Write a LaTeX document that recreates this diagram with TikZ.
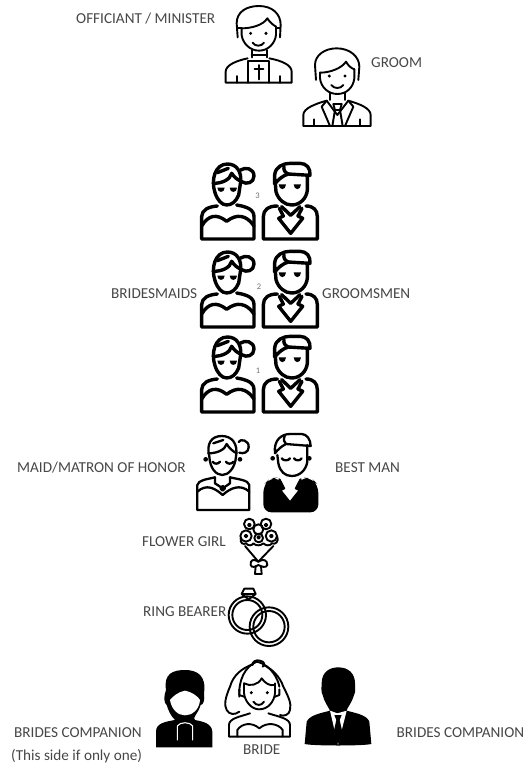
\documentclass[tikz,border=0pt]{standalone}
\usepackage{fontspec}
\setmainfont{Carlito}
\tikzset{
  x=1pt,y=-1pt,
  lbl/.style={font=\fontsize{15.2}{17}\selectfont,text=black!72,inner sep=0pt},
  tinylbl/.style={font=\fontsize{8.5}{9}\selectfont,text=black!55,inner sep=0pt},
  icon/.style={line width=1.9pt,line cap=round,line join=round,draw=black},
  heavy icon/.style={line width=3.4pt,line cap=round,line join=round,draw=black},
  pics/couple/.style={code={
    \begin{scope}[scale=1/3,heavy icon]
    % bridesmaid
    \draw (45,128) .. controls (32,90) and (45,42) .. (82,42) .. controls (110,42) and (125,65) .. (122,95) -- (116,135) .. controls (108,155) and (95,165) .. (80,165) .. controls (65,165) and (52,150) .. (45,128);
    \draw (122,60) .. controls (135,50) and (162,55) .. (162,78) .. controls (162,98) and (140,105) .. (125,95);
    \draw (40,100) .. controls (65,100) and (90,90) .. (95,70) .. controls (105,85) and (115,90) .. (125,95);
    \draw (52,68) -- (85,55);
    \fill (52,113) -- (74,113) .. controls (74,130) and (52,130) .. (52,113);
    \fill (89,113) -- (111,113) .. controls (111,130) and (89,130) .. (89,113);
    \draw (52,168) .. controls (25,170) and (5,180) .. (5,200) -- (5,267) -- (162,267) -- (162,200) .. controls (162,178) and (140,170) .. (110,165);
    \draw (5,228) .. controls (25,195) and (50,190) .. (80,214) .. controls (110,190) and (140,195) .. (162,228);
    % groomsman
    \draw (226,100) -- (228,125) .. controls (235,150) and (255,165) .. (275,165) .. controls (300,165) and (320,145) .. (322,120) -- (322,78);
    \draw (224,102) -- (224,75) .. controls (226,50) and (250,40) .. (270,40) -- (300,40) .. controls (320,40) and (332,55) .. (330,76) -- (265,72) .. controls (250,76) and (235,88) .. (224,102);
    \draw (252,50) .. controls (250,60) and (255,68) .. (265,72);
    \fill (236,103) -- (258,103) .. controls (258,122) and (236,122) .. (236,103);
    \fill (281,103) -- (303,103) .. controls (303,122) and (281,122) .. (281,103);
    \draw (232,168) .. controls (205,168) and (190,180) .. (190,200) -- (190,267) -- (352,267) -- (352,200) .. controls (352,180) and (340,168) .. (318,168);
    \draw (238,175) -- (250,198) -- (236,205) -- (272,250) -- (308,205) -- (294,198) -- (306,175);
    \draw (245,170) -- (272,196) -- (300,170);
    \end{scope}
  }}
}
\begin{document}
\begin{tikzpicture}
\useasboundingbox[fill=white] (0,0) rectangle (524,766);
% labels
\node[lbl,anchor=west] (off) at (76,19) {OFFICIANT / MINISTER};
\node[lbl,anchor=west] (gr) at (371,63) {GROOM};
\node[lbl,anchor=west] (bm) at (111,294) {BRIDESMAIDS};
\node[lbl,anchor=west] (gm) at (322,294) {GROOMSMEN};
\node[lbl,anchor=west] (moh) at (17,468) {MAID/MATRON OF HONOR};
\node[lbl,anchor=west] (bman) at (335,468) {BEST MAN};
\node[lbl,anchor=west] (fg) at (142,542) {FLOWER GIRL};
\node[lbl,anchor=west] (rb) at (143,612) {RING BEARER};
\node[lbl,anchor=west] (bc1) at (14,733) {BRIDES COMPANION};
\node[lbl,anchor=west] (bc3) at (11,756) {(This side if only one)};
\node[lbl,anchor=west] (br) at (243,750) {BRIDE};
\node[lbl,anchor=west] (bc2) at (396.5,733) {BRIDES COMPANION};
\node[tinylbl] (n3) at (257.5,196) {3};
\node[tinylbl] (n2) at (259,287) {2};
\node[tinylbl] (n1) at (258,371) {1};
% couples
\pic at (200,150) {couple};
\pic at (200,238) {couple};
\pic at (200,323) {couple};
% officiant
\begin{scope}[shift={(60,0)},scale=1/3,icon]
\draw (533,112) -- (530,70) .. controls (530,35) and (560,18) .. (597,18) .. controls (635,18) and (662,40) .. (662,75) -- (660,112);
\draw (545,85) -- (545,105) .. controls (548,130) and (570,152) .. (597,152) .. controls (625,152) and (645,130) .. (648,105) -- (648,80);
\draw (545,85) .. controls (575,85) and (610,75) .. (622,55) .. controls (630,68) and (640,75) .. (648,80);
\draw (533,85) -- (545,85) (648,85) -- (660,85);
\fill (572,100) circle (5) (618,100) circle (5);
\draw (578,128) .. controls (585,140) and (605,140) .. (612,128);
\draw (575,150) -- (575,172) (620,150) -- (620,172) (575,165) -- (620,165);
\draw (563,175) .. controls (530,182) and (497,195) .. (497,215) -- (497,248) -- (695,248) -- (695,215) .. controls (695,195) and (665,182) .. (628,175);
\draw (563,248) -- (563,182) -- (628,182) -- (628,248);
\draw (597,195) -- (597,238) (584,208) -- (610,208);
\draw (530,248) -- (530,228) (660,248) -- (660,228);
\end{scope}
% groom
\begin{scope}[shift={(60,0)},scale=1/3,icon]
\draw (768,240) -- (765,195) .. controls (765,165) and (795,145) .. (830,145) .. controls (870,145) and (898,170) .. (898,200) -- (895,240);
\draw (780,218) -- (780,235) .. controls (783,262) and (805,282) .. (832,282) .. controls (860,282) and (880,262) .. (883,235) -- (883,208);
\draw (780,218) .. controls (810,218) and (845,205) .. (858,185) .. controls (865,198) and (875,205) .. (883,208);
\fill (808,228) circle (5) (855,228) circle (5);
\draw (814,255) .. controls (822,267) and (842,267) .. (850,255);
\draw (810,280) -- (810,300) (855,280) -- (855,300);
\draw (800,302) .. controls (765,312) and (730,325) .. (730,345) -- (730,378) -- (932,378) -- (932,345) .. controls (932,325) and (900,312) .. (865,302);
\draw (800,302) -- (785,320) -- (810,378) (865,302) -- (880,320) -- (855,378);
\draw (800,302) -- (832,345) -- (865,302);
\draw (820,312) -- (845,312) -- (840,330) -- (848,378) (820,312) -- (825,330) -- (817,378) (825,330) -- (840,330);
\draw (762,378) -- (762,358) (900,378) -- (900,358);
\end{scope}
% maid of honor
\begin{scope}[shift={(190,420)},scale=1/3,line width=2.3pt,line cap=round,line join=round]
\draw (58,110) .. controls (48,70) and (65,48) .. (95,48) .. controls (125,48) and (145,70) .. (138,110) .. controls (135,145) and (115,165) .. (97,165) .. controls (78,165) and (60,145) .. (58,110);
\draw (146,66) .. controls (150,55) and (178,60) .. (176,82) .. controls (175,98) and (160,102) .. (148,98);
\draw (55,100) .. controls (80,100) and (105,90) .. (110,72) .. controls (118,85) and (130,95) .. (140,100);
\draw (70,70) -- (100,60);
\draw (68,125) .. controls (72,133) and (85,133) .. (90,125) (108,125) .. controls (112,133) and (125,133) .. (130,125);
\fill (47,118) circle (7) (150,118) circle (7);
\draw (75,172) .. controls (50,178) and (25,180) .. (22,195) -- (22,270) -- (178,270) -- (178,195) .. controls (175,180) and (145,178) .. (120,172);
\draw (22,215) .. controls (50,190) and (75,205) .. (98,225) .. controls (120,205) and (150,190) .. (178,215);
\draw (75,172) -- (75,190) -- (98,205) -- (120,190) -- (120,172);
\draw[fill=black] (98,198) -- (105,205) -- (98,212) -- (91,205) -- cycle;
\end{scope}
% best man
\begin{scope}[shift={(190,420)},scale=1/3,line width=2.3pt,line cap=round,line join=round]
\fill[rounded corners=8] (220,277) -- (220,195) -- (240,175) -- (268,172) -- (300,250) -- (332,172) -- (365,175) -- (385,195) -- (385,277) -- cycle;
\fill[white] (268,180) -- (282,205) -- (270,210) -- (300,248) -- (330,210) -- (318,205) -- (332,180) -- (300,195) -- cycle;
\draw (268,178) -- (282,205) -- (270,210) -- (300,248) -- (330,210) -- (318,205) -- (332,178);
\draw (262,105) -- (265,130) .. controls (270,155) and (285,168) .. (305,168) .. controls (330,168) and (348,150) .. (352,125) -- (352,75);
\draw (255,100) .. controls (250,60) and (275,42) .. (300,42) -- (335,42) .. controls (350,42) and (362,58) .. (362,78) -- (288,72) .. controls (275,78) and (262,90) .. (255,100);
\draw (284,48) .. controls (280,58) and (282,68) .. (288,72);
\fill (248,115) circle (7) (358,115) circle (7);
\draw (275,115) .. controls (280,123) and (295,123) .. (300,115) (312,115) .. controls (317,123) and (330,123) .. (335,115);
\end{scope}
% bouquet
\begin{scope}[shift={(190,510)},scale=1/3,icon]
\foreach \a/\b/\r in {178/42/16,228/42/16,205/58/15,168/78/17,244/78/17,206/84/13}{\draw (\a,\b) circle (\r);}
\foreach \a/\b in {168/78,244/78,206/82,178/45,228/45}{\draw (\a,\b) circle (4);}
\draw (152,85) .. controls (150,100) and (160,105) .. (168,100) .. controls (175,108) and (185,108) .. (190,100) .. controls (197,108) and (212,108) .. (220,100) .. controls (228,108) and (240,108) .. (246,100) .. controls (255,105) and (268,95) .. (262,80);
\draw (165,108) -- (205,155) -- (250,108);
\draw (205,155) .. controls (190,145) and (180,150) .. (182,165) .. controls (185,175) and (198,170) .. (205,165) .. controls (215,170) and (228,175) .. (232,165) .. controls (232,150) and (220,145) .. (205,155);
\draw (197,168) -- (195,192) -- (215,192) -- (213,168);
% rings
\draw (172,315) circle (56) (172,315) circle (45);
\draw (237,350) circle (58) (237,350) circle (47);
\draw (155,252) -- (163,236) -- (190,236) -- (197,252) -- (176,268) -- cycle (155,252) -- (197,252);
\end{scope}
% bride and companions
\begin{scope}[shift={(150,650)},scale=1/3,icon]
% left companion
\fill (48,120) .. controls (40,70) and (70,60) .. (105,60) .. controls (140,60) and (170,75) .. (162,130) .. controls (165,150) and (160,165) .. (152,165) .. controls (145,190) and (125,205) .. (135,210) .. controls (160,215) and (185,220) .. (187,245) -- (187,292) -- (18,292) -- (18,245) .. controls (18,220) and (45,215) .. (75,210) .. controls (60,195) and (55,180) .. (50,165) .. controls (42,160) and (40,140) .. (48,120) -- cycle;
\fill[white] (60,150) .. controls (68,140) and (85,125) .. (105,122) .. controls (125,125) and (145,140) .. (150,150) .. controls (148,180) and (125,196) .. (105,196) .. controls (85,196) and (65,180) .. (60,150) -- cycle;
\draw[white,line width=1.1pt] (82,270) -- (82,228) .. controls (90,215) and (120,215) .. (128,228) -- (128,270);
% bride
\draw (268,140) .. controls (265,90) and (285,50) .. (320,35) .. controls (365,45) and (385,90) .. (388,110);
\draw (308,45) .. controls (305,35) and (320,28) .. (330,32) .. controls (345,35) and (345,45) .. (338,50);
\draw (310,42) .. controls (275,55) and (250,75) .. (240,110) .. controls (225,145) and (222,165) .. (230,180) .. controls (238,195) and (255,195) .. (268,185);
\draw (340,45) .. controls (365,55) and (390,80) .. (400,110) .. controls (415,140) and (425,160) .. (420,180) .. controls (418,195) and (400,200) .. (390,195);
\draw (282,100) .. controls (300,110) and (325,105) .. (335,85) .. controls (345,100) and (360,108) .. (372,105);
\draw (282,100) -- (282,130) .. controls (285,155) and (305,178) .. (327,178) .. controls (355,178) and (372,155) .. (375,130) -- (375,100);
\draw (268,118) -- (268,135) -- (282,140) (388,118) -- (388,135) -- (375,140);
\fill (304,128) circle (5) (352,128) circle (5);
\draw (310,155) .. controls (318,168) and (335,168) .. (342,155);
\draw (300,190) .. controls (270,200) and (237,205) .. (237,225) -- (237,260) -- (420,260) -- (420,225) .. controls (420,205) and (385,200) .. (355,190);
\draw (262,260) -- (262,240) .. controls (275,220) and (305,215) .. (328,235) .. controls (350,215) and (385,220) .. (398,240) -- (398,260);
% right companion
\fill (515,100) .. controls (515,65) and (540,52) .. (565,52) .. controls (595,52) and (615,70) .. (615,100) .. controls (615,115) and (618,125) .. (612,135) .. controls (605,160) and (590,175) .. (590,182) .. controls (620,190) and (650,195) .. (658,215) -- (664,282) .. controls (640,288) and (490,288) .. (464,282) -- (470,215) .. controls (480,195) and (510,190) .. (540,182) .. controls (535,170) and (522,155) .. (518,135) .. controls (512,125) and (515,110) .. (515,100) -- cycle;
\fill[white] (540,182) -- (562,190) -- (590,182) -- (564,285) -- cycle;
\fill (553,195) -- (575,195) -- (569,210) -- (578,250) -- (564,282) -- (550,250) -- (559,210) -- cycle;
\end{scope}
\end{tikzpicture}
\end{document}
